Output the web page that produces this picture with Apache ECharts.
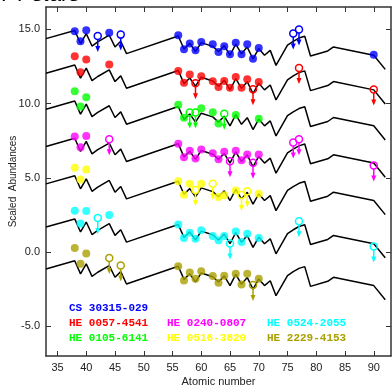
<!DOCTYPE html>
<html>
<head>
<meta charset="utf-8">
<script src="https://cdn.jsdelivr.net/npm/echarts@6/dist/echarts.min.js"></script>
<style>
  html, body { margin: 0; padding: 0; background: #fff; }
  #chart { width: 392px; height: 386px; }
</style>
</head>
<body>
<div id="chart"></div>
<script>
// scaled solar r-process pattern (relative to Ba), shifted per star
const patternZ = [33, 38, 39, 40, 41, 42, 44, 45, 46, 47, 56, 57, 58, 59, 60, 62, 63, 64, 65, 66, 67, 68, 69, 70, 71, 72, 73, 75, 76, 77, 78, 79, 82, 83, 90, 92];
const patternRel = [-0.18, 0.37, -0.51, 0.16, -0.68, -0.40, 0.05, -0.74, -0.36, -1.19, 0, -0.88, -0.50, -1.05, -0.45, -0.70, -1.05, -0.65, -1.30, -0.55, -1.20, -0.75, -1.55, -0.85, -1.30, -0.97, -1.98, -0.62, -0.36, -0.14, -0.02, -1.35, -1.01, -0.74, -1.30, -2.25];

const starNames = ['CS 30315-029', 'HE 0057-4541', 'HE 0105-6141', 'HE 0240-0807', 'HE 0516-3820', 'HE 0524-2055', 'HE 2229-4153'];
const starColors = ['#0000ff', '#ff0000', '#00ff00', '#ff00ff', '#ffff00', '#00ffff', '#aaa000'];
const starOffsets = [14.55, 12.22, 9.8, 7.29, 4.77, 1.86, -0.96];

// detections
const cs30315Z = [38, 39, 40, 44, 56, 57, 58, 59, 60, 62, 63, 64, 65, 66, 67, 68, 69, 70, 90];
const cs30315Val = [14.87, 14.2, 14.93, 14.77, 14.6, 13.65, 14.04, 13.58, 14.15, 13.99, 13.47, 13.85, 13.32, 14.1, 13.32, 13.99, 13.02, 13.74, 13.29];
const he0057Z = [38, 39, 40, 44, 56, 57, 58, 60, 62, 63, 64, 65, 66, 67, 68, 70];
const he0057Val = [13.19, 12.1, 12.96, 12.63, 12.19, 11.4, 11.96, 11.83, 11.5, 11.11, 11.52, 11.07, 11.79, 11.07, 11.63, 11.45];
const he0105Z = [38, 39, 40, 56, 57, 60, 62, 63, 66, 70];
const he0105Val = [10.83, 9.8, 10.42, 9.92, 9.04, 9.68, 9.41, 8.66, 9.22, 8.98];
const he0240Z = [38, 39, 40, 56, 57, 58, 59, 60, 62, 63, 64, 66, 67, 68, 70];
const he0240Val = [7.78, 7.05, 7.81, 7.29, 6.39, 6.82, 6.3, 6.9, 6.65, 6.25, 6.75, 6.82, 6.18, 6.56, 6.56];
const he0516Z = [38, 39, 40, 56, 57, 58, 60, 63, 64, 66, 70];
const he0516Val = [5.68, 4.89, 5.55, 4.77, 3.85, 4.6, 4.6, 3.7, 3.82, 4.14, 3.93];
const he0524Z = [38, 39, 40, 44, 56, 57, 58, 59, 60, 62, 63, 64, 66, 67, 68, 70];
const he0524Val = [2.78, 1.92, 2.77, 2.49, 1.86, 0.94, 1.3, 0.9, 1.46, 1.08, 0.79, 1.08, 1.39, 0.67, 1.24, 0.94];
const he2229Z = [38, 39, 40, 56, 57, 58, 59, 60, 62, 63, 64, 66, 67, 68, 70];
const he2229Val = [0.28, -0.78, -0.09, -0.96, -1.91, -1.37, -1.79, -1.3, -1.62, -2.06, -1.6, -1.46, -2.19, -1.46, -1.79];

// upper limits
const cs30315UlZ = [42, 46, 76, 77];
const cs30315UlVal = [14.55, 14.64, 14.71, 14.98];
const he0057UlZ = [59, 69, 77, 90];
const he0057UlVal = [11.36, 10.96, 12.39, 10.94];
const he0105UlZ = [58, 59, 64];
const he0105UlVal = [9.39, 9.39, 9.32];
const he0240UlZ = [44, 65, 69, 76, 77, 90];
const he0240UlVal = [7.6, 6.12, 6.02, 7.38, 7.6, 5.82];
const he0516UlZ = [59, 62, 67, 68];
const he0516UlVal = [4.17, 4.6, 3.84, 4.1];
const he0524UlZ = [42, 65, 77, 90];
const he0524UlVal = [2.3, 0.57, 2.07, 0.38];
const he2229UlZ = [44, 46, 69];
const he2229UlVal = [-0.4, -0.9, -2.22];

const xTicks = [35, 40, 45, 50, 55, 60, 65, 70, 75, 80, 85, 90];
const yTicks = [-5, 0, 5, 10, 15];

const detZ = [cs30315Z, he0057Z, he0105Z, he0240Z, he0516Z, he0524Z, he2229Z];
const detVal = [cs30315Val, he0057Val, he0105Val, he0240Val, he0516Val, he0524Val, he2229Val];
const ulZ = [cs30315UlZ, he0057UlZ, he0105UlZ, he0240UlZ, he0516UlZ, he0524UlZ, he2229UlZ];
const ulVal = [cs30315UlVal, he0057UlVal, he0105UlVal, he0240UlVal, he0516UlVal, he0524UlVal, he2229UlVal];

const zip = (xs, ys) => xs.map((x, i) => [x, ys[i]]);

const series = [];
starOffsets.forEach((off) => {
  series.push({
    type: 'line',
    data: patternZ.map((z, i) => [z, patternRel[i] + off]),
    symbol: 'none',
    lineStyle: { color: '#000', width: 1.5 },
    z: 1,
  });
});
starNames.forEach((name, k) => {
  series.push({
    type: 'scatter',
    data: zip(detZ[k], detVal[k]),
    symbol: 'circle',
    symbolSize: 8,
    itemStyle: { color: starColors[k] },
    z: 3,
  });
  series.push({
    type: 'custom',
    data: zip(ulZ[k], ulVal[k]),
    z: 4,
    renderItem(params, api) {
      const p = api.coord([api.value(0), api.value(1)]);
      const c = starColors[k];
      return {
        type: 'group',
        children: [
          { type: 'line', shape: { x1: p[0], y1: p[1] + 3.5, x2: p[0], y2: p[1] + 11 }, style: { stroke: c, lineWidth: 1.5 } },
          { type: 'polygon', shape: { points: [[p[0] - 2.5, p[1] + 10], [p[0] + 2.5, p[1] + 10], [p[0], p[1] + 16]] }, style: { fill: c } },
          { type: 'circle', shape: { cx: p[0], cy: p[1], r: 3.5 }, style: { fill: 'none', stroke: c, lineWidth: 1.5 } },
        ],
      };
    },
  });
});

const legendPos = [[69, 308], [69, 323], [69, 338], [167, 323], [167, 338], [267, 323], [267, 338]];

const axisLine = { onZero: false, lineStyle: { color: '#333', width: 1.5 } };

const chart = echarts.init(document.getElementById('chart'));
chart.setOption({
  animation: false,
  grid: { left: 46, right: 1, top: 7, bottom: 30, containLabel: false, outerBoundsMode: 'none' },
  xAxis: [
    {
      type: 'value', min: 33, max: 93, position: 'bottom',
      name: 'Atomic number', nameLocation: 'middle', nameGap: 20, nameMoveOverlap: false,
      nameTextStyle: { fontSize: 11, color: '#222', fontFamily: 'Liberation Sans' },
      axisLine,
      axisTick: { inside: true, length: 5, customValues: xTicks, lineStyle: { color: '#333' } },
      axisLabel: { customValues: xTicks, fontSize: 11, color: '#222', margin: 6, fontFamily: 'Liberation Sans' },
      splitLine: { show: false },
    },
    {
      type: 'value', min: 33, max: 93, position: 'top',
      axisLine,
      axisTick: { inside: true, length: 5, customValues: xTicks, lineStyle: { color: '#333' } },
      axisLabel: { show: false },
      splitLine: { show: false },
    },
  ],
  yAxis: [
    {
      type: 'value', min: -7, max: 16.5, position: 'left',
      name: 'Scaled  Abundances', nameLocation: 'middle', nameGap: 28, nameRotate: 90, nameMoveOverlap: false,
      nameTextStyle: { fontSize: 10, color: '#222', fontFamily: 'Liberation Sans' },
      axisLine: { show: true, ...axisLine },
      axisTick: { show: true, inside: true, length: 5, customValues: yTicks, lineStyle: { color: '#333' } },
      axisLabel: { customValues: yTicks, fontSize: 11, color: '#222', margin: 6, fontFamily: 'Liberation Sans', formatter: (v) => v.toFixed(1) },
      splitLine: { show: false },
    },
    {
      type: 'value', min: -7, max: 16.5, position: 'right',
      axisLine: { show: true, ...axisLine },
      axisTick: { show: true, inside: true, length: 5, customValues: yTicks, lineStyle: { color: '#333' } },
      axisLabel: { show: false },
      splitLine: { show: false },
    },
  ],
  graphic: [
    { type: 'text', left: 0, top: -16, style: { text: '7 r-stars', fontSize: 22, fill: '#000', fontFamily: 'Liberation Sans', fontStyle: 'italic' } },
  ].concat(starNames.map((name, k) => ({
    type: 'text', x: legendPos[k][0], y: legendPos[k][1],
    style: { text: name, fill: starColors[k], fontSize: 11, fontWeight: 'bold', fontFamily: 'Liberation Mono', verticalAlign: 'middle' },
  }))),
  series,
});
</script>
</body>
</html>
